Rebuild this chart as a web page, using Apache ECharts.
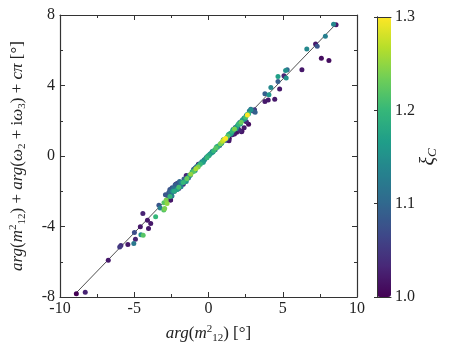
<!DOCTYPE html>
<html>
<head>
<meta charset="utf-8">
<style>
  html, body { margin: 0; padding: 0; background: #fff; }
  #chart { width: 450px; height: 357px; }
</style>
<script src="https://cdn.jsdelivr.net/npm/echarts@6/dist/echarts.min.js"></script>
</head>
<body>
<div id="chart"></div>
<script>
// scattered points: x, y, xi_C
var xVals = [
  -8.9, -8.3, -6.75, -5.98, -5.9, -5.43, -5.03, -4.99, -4.92, -4.59, -4.55, -4.4, -4.42, -4.11, -4.04, -3.89, -3.56, -3.34, -3.25, -3.01, -2.95, -2.79, -2.68, -2.57, -2.46,
  -2.9, -2.75, -2.6, -2.5, -2.45, -2.35, -2.3, -2.2, -2.15, -2.05, -2.0, -1.9, -1.85, -1.75, -1.7, -1.6, -1.55, -1.5, -1.4, -1.35, -1.25, -1.2,
  -3.0, -2.85, -2.6, -2.3, -2.0, -1.7, -1.45, -1.2, -1.0, -0.85, -0.7, -0.55, -0.4, -0.25, -0.1, 0.05, 0.2, 0.35, 0.5, 0.65, 0.8, 0.95, 1.05, 1.15, 1.3, 1.45, 1.6, 1.75, 1.9, 2.05, 2.2, 2.35, 2.5, 2.62, 2.7,
  -1.0, -0.9, -0.8, -0.6, -0.45, -0.3, -0.15, 0.0, 0.1, 0.25, 0.45, 0.6, 0.75, 0.9, 1.1, 1.25, 1.4, 1.55, 1.7, 1.8, 1.95, 2.1, 2.25, 2.4, 2.55, 2.75, 2.85, 3.0, 3.1,
  -2.4, -2.1, -1.8, -1.5, -1.3, -1.1, -0.9, -0.65, -0.35, -0.05, 0.3, 0.55, 0.85, 1.0, 1.2, 1.35, 1.5, 1.65, 1.85, 2.0, 2.15, 2.3, 2.45, 2.6,
  -2.45, -2.25, -2.1, -1.95, -2.6, -1.65,
  1.2, 1.4, 1.6, 1.75, 1.9, 2.1, 2.25, 2.4, 2.7, 2.0, 2.55, 2.22, 1.38,
  -0.68, -1.5, -2.2, -2.55, -2.6, -1.0, -1.85,
  2.86, 3.14, 3.8, 3.8, 4.02, 4.07, 4.46, 4.2, 4.68, 4.79, 4.68, 5.08, 5.23, 5.19, 5.3, 6.29, 6.62, 7.21, 7.32, 7.6, 7.87, 8.11, 8.42, 8.59
];
var yVals = [
  -7.81, -7.73, -5.91, -5.16, -5.08, -5.02, -4.97, -4.34, -4.72, -4.02, -4.47, -4.49, -3.26, -3.64, -4.11, -3.83, -3.45, -2.79, -2.95, -3.07, -2.98, -2.69, -2.09, -2.5, -2.27,
  -2.2, -2.25, -2.05, -2.15, -1.95, -1.85, -2.0, -1.75, -1.9, -1.7, -1.85, -1.6, -1.75, -1.5, -1.6, -1.45, -1.3, -1.45, -1.15, -1.25, -1.1, -1.05,
  -2.65, -2.5, -2.3, -2.0, -1.78, -1.5, -1.28, -1.04, -0.88, -0.72, -0.62, -0.47, -0.35, -0.2, -0.1, 0.04, 0.17, 0.3, 0.45, 0.57, 0.7, 0.83, 0.93, 1.0, 1.13, 1.27, 1.4, 1.53, 1.65, 1.8, 1.92, 2.05, 2.2, 2.33, 2.4,
  -0.75, -0.68, -0.6, -0.45, -0.32, -0.22, -0.08, 0.02, 0.12, 0.26, 0.35, 0.5, 0.6, 0.75, 0.9, 1.05, 1.2, 1.3, 1.48, 1.62, 1.72, 1.9, 2.0, 2.15, 2.3, 2.55, 2.65, 2.55, 2.62,
  -2.0, -1.9, -1.5, -1.35, -1.1, -0.9, -0.82, -0.52, -0.35, 0.0, 0.22, 0.52, 0.7, 0.92, 1.0, 1.22, 1.25, 1.5, 1.55, 1.8, 1.82, 2.05, 2.1, 2.35,
  -1.8, -1.65, -1.55, -1.45, -1.9, -1.3,
  0.9, 1.0, 1.2, 1.25, 1.35, 1.45, 1.4, 1.6, 1.8, 1.55, 1.95, 1.37, 0.87,
  -0.47, -1.1, -1.6, -2.5, -2.0, -0.8, -1.5,
  2.62, 2.48, 3.53, 3.09, 3.18, 3.47, 3.22, 3.89, 4.51, 3.8, 4.22, 4.55, 4.42, 4.85, 4.89, 4.89, 6.07, 6.35, 6.22, 5.55, 6.79, 5.42, 7.47, 7.45
];
var xiVals = [
  1.0, 1.03, 1.02, 1.05, 1.04, 1.02, 1.12, 1.07, 1.03, 1.02, 1.15, 1.22, 1.03, 1.02, 1.02, 1.02, 1.2, 1.08, 1.13, 1.22, 1.24, 1.25, 1.08, 1.02, 1.13,
  1.08, 1.06, 1.10, 1.07, 1.09, 1.11, 1.05, 1.08, 1.12, 1.09, 1.06, 1.10, 1.13, 1.08, 1.04, 1.12, 1.07, 1.15, 1.02, 1.10, 1.14, 1.09,
  1.22, 1.24, 1.2, 1.18, 1.21, 1.2, 1.23, 1.25, 1.22, 1.26, 1.24, 1.2, 1.17, 1.15, 1.2, 1.18, 1.16, 1.2, 1.22, 1.19, 1.24, 1.27, 1.28, 1.3, 1.22, 1.18, 1.2, 1.24, 1.16, 1.2, 1.23, 1.14, 1.21, 1.3, 1.2,
  1.1, 1.08, 1.12, 1.1, 1.13, 1.09, 1.11, 1.12, 1.14, 1.1, 1.12, 1.15, 1.1, 1.13, 1.1, 1.13, 1.11, 1.14, 1.12, 1.09, 1.11, 1.13, 1.08, 1.15, 1.1, 1.12, 1.1, 1.07, 1.05,
  1.16, 1.17, 1.15, 1.18, 1.16, 1.19, 1.15, 1.17, 1.16, 1.18, 1.15, 1.17, 1.19, 1.16, 1.15, 1.18, 1.16, 1.17, 1.15, 1.19, 1.16, 1.17, 1.15, 1.18,
  1.08, 1.09, 1.07, 1.1, 1.08, 1.09,
  1.02, 1.01, 1.03, 1.02, 1.01, 1.03, 1.01, 1.02, 1.01, 1.04, 1.03, 1.02, 1.02,
  1.02, 1.03, 1.02, 1.01, 1.04, 1.03, 1.02,
  1.15, 1.09, 1.09, 1.02, 1.02, 1.16, 1.02, 1.14, 1.17, 1.02, 1.09, 1.03, 1.15, 1.15, 1.1, 1.02, 1.14, 1.02, 1.08, 1.01, 1.13, 1.01, 1.14, 1.02
];
// reference line
var lineX = [-8.9, 8.6];
var lineY = [-7.76, 7.5];

var viridis = ['#440154', '#482878', '#3e4989', '#31688e', '#26828e', '#1f9e89', '#35b779', '#6ece58', '#b5de2b', '#fde725'];
var serif = '"Liberation Serif", "DejaVu Serif", serif';
var frame = '#333';

var pts = [];
for (var i = 0; i < xVals.length; i++) pts.push([xVals[i], yVals[i], xiVals[i]]);
// larger xi drawn on top, as in the original
pts.sort(function (a, b) { return a[2] - b[2]; });
var linePts = lineX.map(function (x, i) { return [x, lineY[i]]; });

var nameRich = {
  i: { fontFamily: serif, fontSize: 17, fontStyle: 'italic', color: '#222' },
  n: { fontFamily: serif, fontSize: 17, color: '#222' },
  sup: { fontFamily: serif, fontSize: 11, color: '#222', verticalAlign: 'top', lineHeight: 20 },
  sub: { fontFamily: serif, fontSize: 11, color: '#222', verticalAlign: 'bottom', lineHeight: 20 }
};

function frameAxis(extra) {
  var base = {
    axisLine: { show: true, onZero: false, lineStyle: { color: frame, width: 1.2 } },
    axisTick: { show: true, inside: true, length: 5, lineStyle: { color: frame } },
    minorTick: { show: true, splitNumber: 2, length: 3, lineStyle: { color: frame } },
    splitLine: { show: false },
    axisLabel: { show: false },
    z: 5
  };
  return Object.assign(base, extra);
}

var chart = echarts.init(document.getElementById('chart'));
var option = {
  animation: false,
  backgroundColor: '#fff',
  grid: [
    { left: 54, right: 93, top: 15, bottom: 60 },
    { left: 377, width: 14, top: 17, height: 280 }
  ],
  xAxis: [
    frameAxis({
      gridIndex: 0, type: 'value', min: -10, max: 10, interval: 5, position: 'bottom',
      axisLabel: { show: true, fontFamily: serif, fontSize: 16, color: '#222', margin: 4 },
      name: '{i|arg}{n|(}{i|m}{sup|2}{sub|12}{n|) [°]}', nameLocation: 'middle', nameGap: 27,
      nameTextStyle: { rich: nameRich }
    }),
    frameAxis({ gridIndex: 0, type: 'value', min: -10, max: 10, interval: 5, position: 'top' }),
    { gridIndex: 1, type: 'value', min: 0, max: 1, show: true,
      axisLine: { show: true, lineStyle: { color: frame } }, axisTick: { show: false },
      axisLabel: { show: false }, splitLine: { show: false }, position: 'bottom', z: 5 },
    { gridIndex: 1, type: 'value', min: 0, max: 1, show: true,
      axisLine: { show: true, lineStyle: { color: frame } }, axisTick: { show: false },
      axisLabel: { show: false }, splitLine: { show: false }, position: 'top', z: 5 }
  ],
  yAxis: [
    frameAxis({
      gridIndex: 0, type: 'value', min: -8, max: 8, interval: 4, position: 'left',
      axisLabel: { show: true, fontFamily: serif, fontSize: 16, color: '#222', margin: 5 },
      name: '{i|arg}{n|(}{i|m}{sup|2}{sub|12}{n|) + }{i|arg}{n|(}{i|ω}{sub|2}{n| + i}{i|ω}{sub|3}{n|) + }{i|cπ}{n| [°]}',
      nameLocation: 'middle', nameGap: 32,
      nameTextStyle: { rich: nameRich }
    }),
    frameAxis({ gridIndex: 0, type: 'value', min: -8, max: 8, interval: 4, position: 'right' }),
    { gridIndex: 1, type: 'value', min: 1.0, max: 1.3, interval: 0.1, position: 'right',
      axisLine: { show: true, lineStyle: { color: frame } },
      axisTick: { show: true, inside: true, length: 3, lineStyle: { color: frame } },
      axisLabel: { fontFamily: serif, fontSize: 16, color: '#222', margin: 4,
        formatter: function (v) { return v.toFixed(1); } },
      splitLine: { show: false },
      name: '{i|ξ}{s|C}', nameLocation: 'middle', nameGap: 27, nameRotate: 90,
      nameTextStyle: {
        rich: {
          i: { fontFamily: serif, fontSize: 20, fontStyle: 'italic', color: '#222' },
          s: { fontFamily: serif, fontSize: 13, fontStyle: 'italic', color: '#222', padding: [8, 0, 0, 0] }
        }
      },
      z: 5 },
    { gridIndex: 1, type: 'value', min: 1.0, max: 1.3, position: 'left',
      axisLine: { show: true, lineStyle: { color: frame } }, axisTick: { show: false },
      axisLabel: { show: false }, splitLine: { show: false }, z: 5 }
  ],
  visualMap: {
    type: 'continuous',
    min: 1.0, max: 1.3,
    dimension: 2,
    seriesIndex: 0,
    inRange: { color: viridis },
    left: 377, top: 17,
    itemWidth: 14, itemHeight: 280,
    padding: 0,
    text: ['', ''],
    calculable: false,
    hoverLink: false,
    z: 0
  },
  series: [
    {
      type: 'scatter',
      xAxisIndex: 0, yAxisIndex: 0,
      data: pts,
      symbolSize: 5,
      itemStyle: { opacity: 1 },
      z: 3
    },
    {
      type: 'line',
      xAxisIndex: 0, yAxisIndex: 0,
      data: linePts,
      symbol: 'none',
      lineStyle: { color: '#222', width: 0.8 },
      z: 2
    }
  ]
};
chart.setOption(option);
</script>
</body>
</html>
